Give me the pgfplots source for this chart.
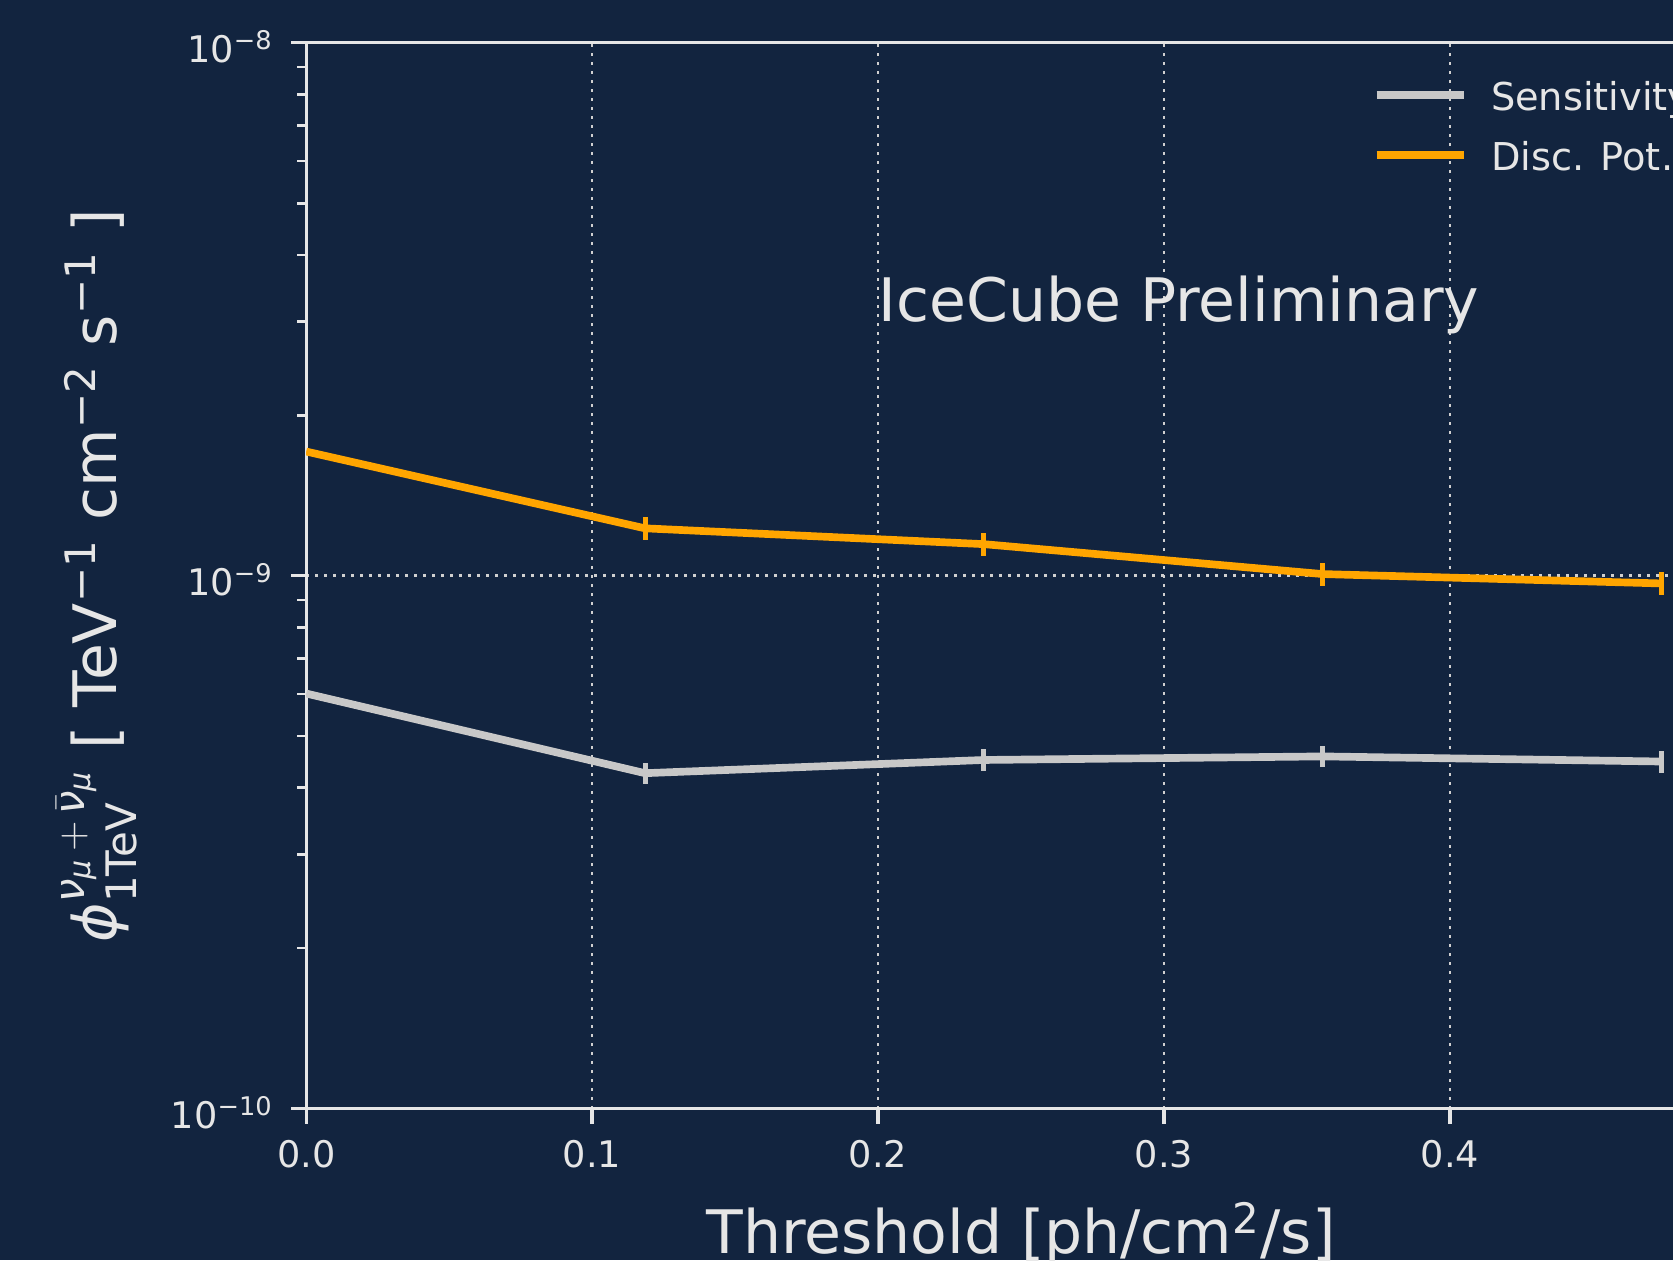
\documentclass[border=0pt]{standalone}
\usepackage{pgfplots}
\pgfplotsset{compat=1.18}
\usepackage{amsmath}
\usepackage{fontspec}
\setmainfont{DejaVu Sans}
\definecolor{bg}{HTML}{12243F}
\definecolor{fg}{HTML}{E6E6E6}
\definecolor{gridc}{HTML}{D0D0D0}
\definecolor{sens}{HTML}{C8C8C8}
\definecolor{disc}{HTML}{FFA500}
\begin{document}
\begin{tikzpicture}
\fill[bg] (0,0) rectangle (501.9pt,378pt);
\begin{axis}[
  at={(91.86pt,45.45pt)}, anchor=south west,
  scale only axis, width=428.9pt, height=319.74pt,
  xmin=0, xmax=0.5, ymode=log, ymin=1e-10, ymax=1e-8,
  xtick={0,0.1,0.2,0.3,0.4,0.5},
  xticklabels={0.0,0.1,0.2,0.3,0.4,0.5},
  ytick={1e-10,1e-9,1e-8},
  yticklabels={10\textsuperscript{−10},10\textsuperscript{−9},10\textsuperscript{−8}},
  tick pos=left,
  tick align=outside,
  major tick length=4.5pt, minor tick length=2.7pt,
  every tick/.style={draw=fg, line width=1pt},
  minor tick style={draw=fg, line width=0.8pt},
  axis line style={draw=fg, line width=1pt},
  grid=major,
  major grid style={draw=gridc, line width=0.8pt, dash pattern=on 0.8pt off 1.9pt},
  tick label style={text=fg, font=\fontsize{11}{13}\selectfont},
  xticklabel style={anchor=base, yshift=-13.1pt},
  yticklabel style={anchor=base east, xshift=-1.8pt, yshift=-6pt},
  xlabel={Threshold [ph/cm\textsuperscript{2}/s]},
  xlabel style={at={(axis description cs:0.5,0)}, anchor=base, yshift=-43.6pt, text=fg, font=\fontsize{18}{21}\selectfont},
  ylabel={$\text{\itshape ϕ}^{\text{\itshape ν}_{\text{\itshape μ}}\,+\,\bar{\text{\itshape ν}}_{\text{\itshape μ}}}_{\text{1TeV}}$ [ TeV\textsuperscript{−1} cm\textsuperscript{−2} s\textsuperscript{−1} ]},
  ylabel style={at={(axis description cs:-0.1325,0.5)}, anchor=base, rotate=0, text=fg, font=\fontsize{18}{21}\selectfont},
  legend style={at={(rel axis cs:0.746,1)}, anchor=north west, yshift=-10.4pt,
    draw=none, fill=none, inner sep=0pt, outer sep=0pt, row sep=0pt, column sep=7.1pt,
    text=fg, font=\fontsize{11.5}{13}\selectfont,
    nodes={inner sep=0pt, text height=10pt, text depth=8pt}},
  legend cell align=left,
  legend image code/.code={\draw[#1, line width=2.3pt] (0pt,3.7pt) -- (26.1pt,3.7pt);},
]
\addplot[sens, line width=2.3pt, error bars/.cd, y dir=both, y explicit, error mark=none,
  error bar style={line width=1.5pt, sens}] coordinates {
  (0,6.01e-10) +- (0,0)
  (0.1185,4.26e-10) +- (0,2.0e-11)
  (0.237,4.51e-10) +- (0,2.1e-11)
  (0.3555,4.58e-10) +- (0,2.1e-11)
  (0.474,4.48e-10) +- (0,2.1e-11)
};
\addlegendentry{Sensitivity}
\addplot[disc, line width=2.3pt, error bars/.cd, y dir=both, y explicit, error mark=none,
  error bar style={line width=1.5pt, disc}] coordinates {
  (0,1.71e-9) +- (0,0)
  (0.1185,1.227e-9) +- (0,6.2e-11)
  (0.237,1.146e-9) +- (0,5.8e-11)
  (0.3555,1.007e-9) +- (0,5.1e-11)
  (0.474,0.967e-9) +- (0,4.9e-11)
};
\addlegendentry{Disc. Pot.}
\node[anchor=base west, text=fg, font=\fontsize{18}{21}\selectfont, inner sep=0pt] at (axis cs:0.2,3e-9) {IceCube Preliminary};
\end{axis}
\pgfresetboundingbox
\path[use as bounding box] (0,0) rectangle (501.9pt,378pt);
\end{tikzpicture}
\end{document}
